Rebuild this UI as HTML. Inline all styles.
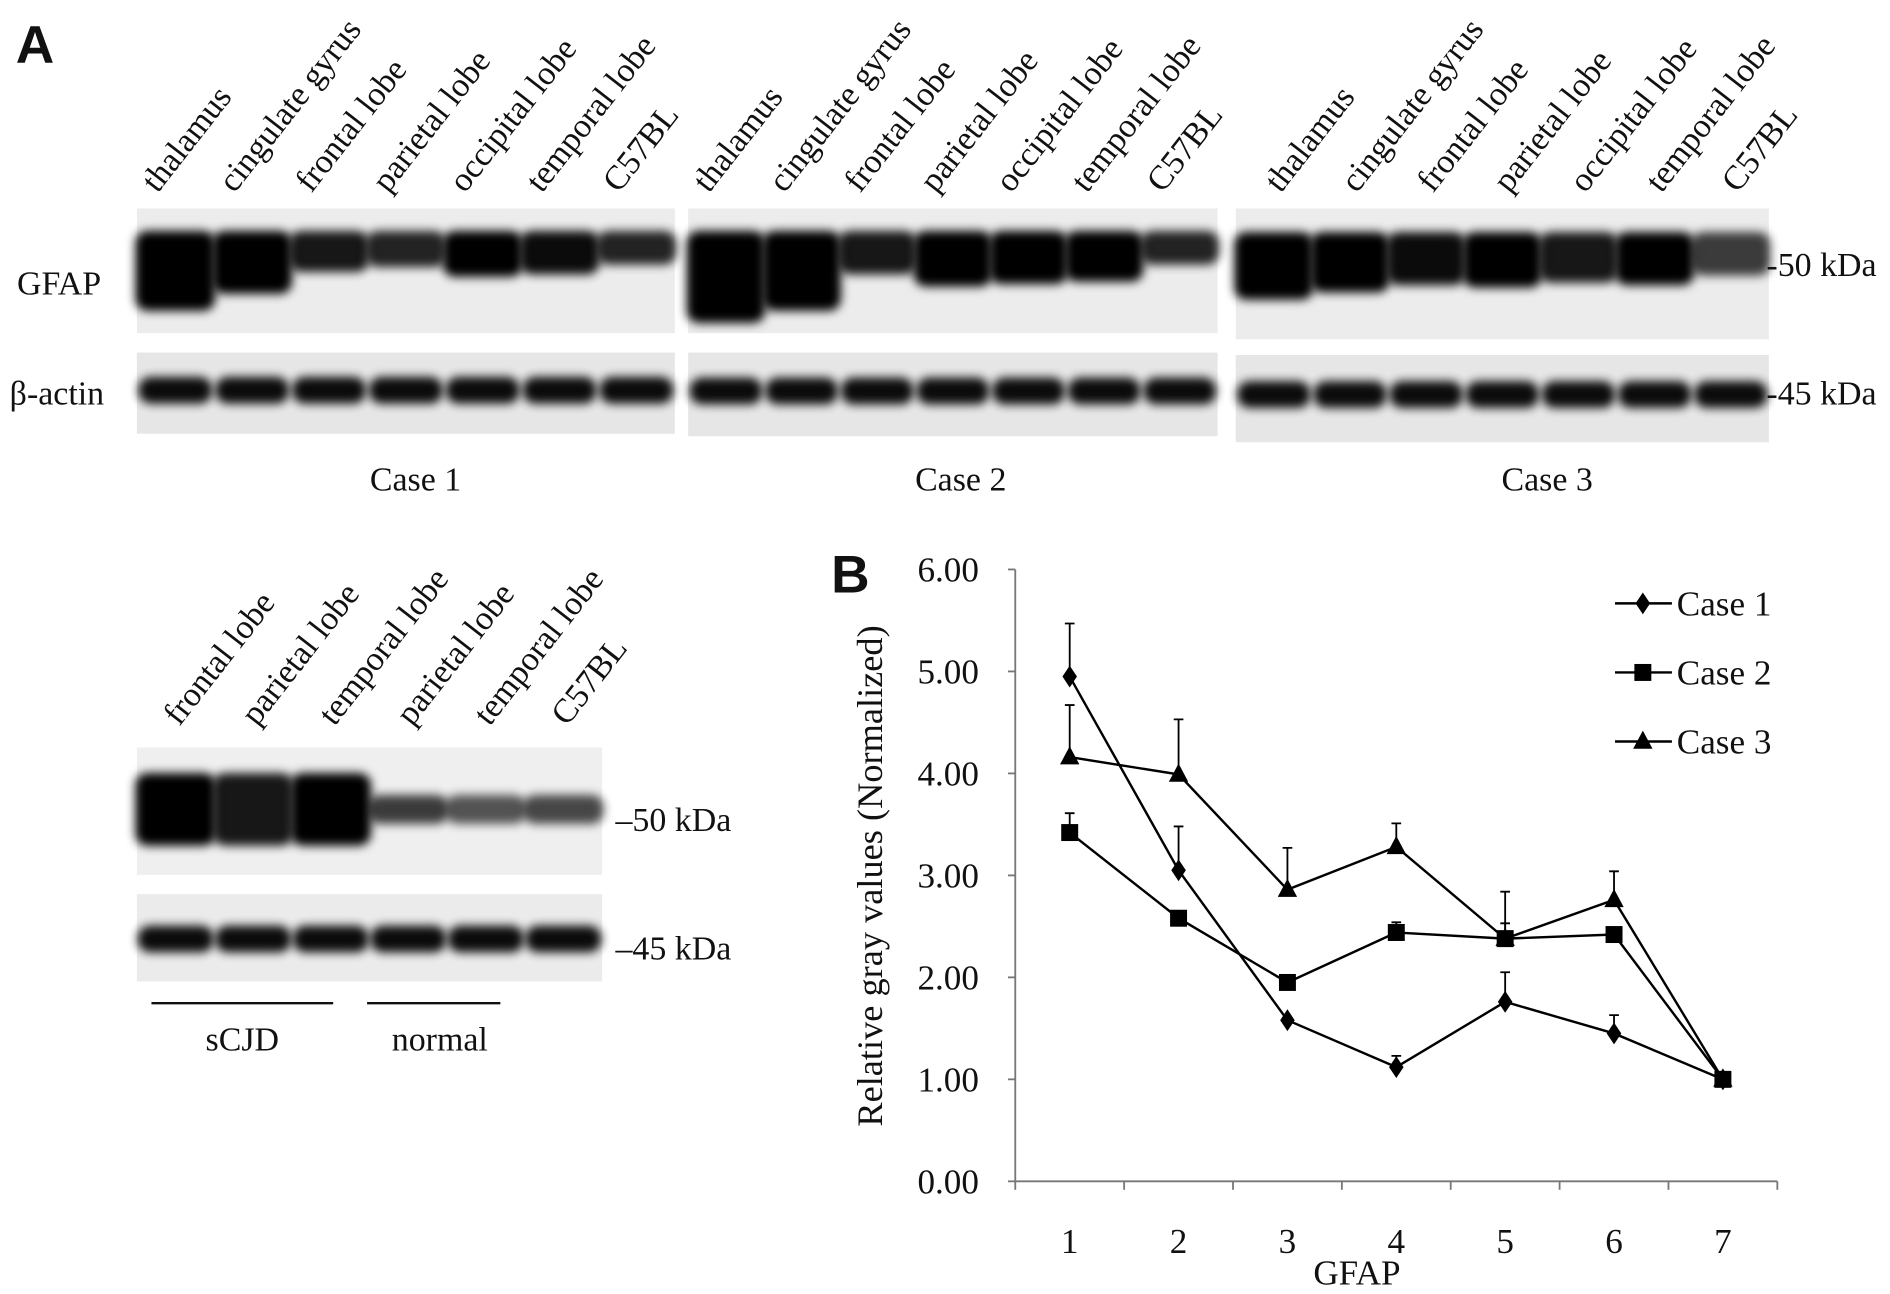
<!DOCTYPE html>
<html><head><meta charset="utf-8"><style>
html,body{margin:0;padding:0;background:#fff;width:1890px;height:1294px;overflow:hidden}
svg{display:block}
text{font-family:"Liberation Serif",serif;fill:#111}
</style></head><body>
<svg id="fig" width="1890" height="1294" viewBox="0 0 1560 1068" preserveAspectRatio="none" xmlns="http://www.w3.org/2000/svg">
<defs>
<filter id="blur" x="-20%" y="-50%" width="140%" height="200%"><feGaussianBlur stdDeviation="4"/></filter>
</defs>
<text x="13" y="52" style="font-family:'Liberation Sans',sans-serif;font-weight:bold;font-size:44px">A</text>
<text x="686" y="489" style="font-family:'Liberation Sans',sans-serif;font-weight:bold;font-size:44px">B</text>
<g id="blots"></g>
<g id="chart"></g>
</svg>
<script>
const NS='http://www.w3.org/2000/svg';
const svg=document.getElementById('fig');
const blots=document.getElementById('blots');
function mk(tag,attrs,parent){const e=document.createElementNS(NS,tag);for(const k in attrs)e.setAttribute(k,attrs[k]);(parent||svg).appendChild(e);return e;}
function txt(s,attrs,parent){const e=mk('text',attrs,parent);e.textContent=s;return e;}

const laneNames=['thalamus','cingulate gyrus','frontal lobe','parietal lobe','occipital lobe','temporal lobe','C57BL'];
const panels=[
 {x:113,w:444,gy:172,gh:103,ay:291,ah:67,lx:130,cap:'Case 1',cx:343,gi:[1,1,.9,.85,1,.95,.85],gt:[50,36,18,14,22,20,12]},
 {x:568,w:437,gy:172,gh:103,ay:291,ah:69,lx:585,cap:'Case 2',cx:793,gi:[1,1,.9,1,1,1,.85],gt:[60,50,20,30,28,26,12]},
 {x:1020,w:440,gy:172,gh:108,ay:293,ah:72,lx:1057,cap:'Case 3',cx:1277,gi:[1,1,.95,1,.9,1,.75],gt:[40,34,28,30,26,28,20]}
];
panels.forEach((p,pi)=>{
  const g=mk('g',{},blots);
  
  
  mk('rect',{x:p.x,y:p.gy,width:p.w,height:p.gh,fill:'#ececec'},g);
  mk('rect',{x:p.x,y:p.ay,width:p.w,height:p.ah,fill:'#e6e6e6'},g);
  const lw=p.w/7;
  for(let i=0;i<7;i++){
    const cx=p.x+lw*(i+.5);
    mk('rect',{x:cx-lw*0.52,y:p.gy+p.gh*0.18,width:lw*1.04,height:p.gt[i]+16,rx:10,fill:'#000',opacity:p.gi[i],filter:'url(#blur)'},g);
    mk('rect',{x:cx-lw*0.48,y:p.ay+p.ah*0.3,width:lw*0.96,height:22,rx:10,fill:'#000',opacity:.95,filter:'url(#blur)'},g);
    const t=txt(laneNames[i],{x:0,y:0,'font-size':'28',transform:`translate(${p.lx+i*(p.w/7)},${160}) rotate(-52)`},g);
    
    
  }
  const c=txt(p.cap,{x:p.cx,y:405,'font-size':'28','text-anchor':'middle'},g);
  
  
});
txt('GFAP',{x:14,y:243,'font-size':'28'},blots);
txt('β-actin',{x:8,y:334,'font-size':'28'},blots);
txt('-50 kDa',{x:1458,y:228,'font-size':'28'},blots);
txt('-45 kDa',{x:1458,y:334,'font-size':'28'},blots);

const lowNames=['frontal lobe','parietal lobe','temporal lobe','parietal lobe','temporal lobe','C57BL'];
const lowInt=[1,.9,1,.75,.65,.7];
const lg=mk('g',{},blots);


mk('rect',{x:113,y:617,width:384,height:105,fill:'#efefef'},lg);
mk('rect',{x:113,y:738,width:384,height:72,fill:'#ebebeb'},lg);
for(let i=0;i<6;i++){
  const lw=384/6,cx=113+lw*(i+.5);
  const big=lowInt[i]>.8;
  mk('rect',{x:cx-lw*.52,y:big?638:656,width:lw*1.04,height:big?60:24,rx:10,fill:'#000',opacity:lowInt[i],filter:'url(#blur)'},lg);
  mk('rect',{x:cx-lw*.49,y:764,width:lw*.98,height:22,rx:10,fill:'#000',opacity:.95,filter:'url(#blur)'},lg);
  const t=txt(lowNames[i],{x:0,y:0,'font-size':'28',transform:`translate(${148+i*64},600) rotate(-52)`},lg);
  
  
}
txt('–50 kDa',{x:508,y:686,'font-size':'28'},lg);
txt('–45 kDa',{x:508,y:792,'font-size':'28'},lg);
mk('line',{x1:125,y1:828,x2:275,y2:828,stroke:'#111','stroke-width':2},lg);
mk('line',{x1:303,y1:828,x2:413,y2:828,stroke:'#111','stroke-width':2},lg);
txt('sCJD',{x:200,y:867,'font-size':'28','text-anchor':'middle'},lg);
txt('normal',{x:363,y:867,'font-size':'28','text-anchor':'middle'},lg);
</script>
<script>
const categories=['1','2','3','4','5','6','7'];
const yTicks=['0.00','1.00','2.00','3.00','4.00','5.00','6.00'];
const case1=[4.95,3.05,1.58,1.12,1.76,1.45,1.00];
const case1Err=[0.52,0.43,0,0.11,0.29,0.18,0];
const case2=[3.42,2.58,1.95,2.44,2.38,2.42,1.00];
const case2Err=[0.19,0,0,0.10,0.15,0,0];
const case3=[4.16,3.99,2.86,3.28,2.38,2.76,1.00];
const case3Err=[0.51,0.54,0.41,0.23,0.46,0.28,0];
const seriesNames=['Case 1','Case 2','Case 3'];

(function(){
const NS='http://www.w3.org/2000/svg';
const chart=document.getElementById('chart');
function mk(tag,attrs,parent){const e=document.createElementNS(NS,tag);for(const k in attrs)e.setAttribute(k,attrs[k]);(parent||chart).appendChild(e);return e;}
const X0=838,X1=1467,Y0=975,Y6=470,yMax=6;
const bw=(X1-X0)/categories.length;
const xs=i=>X0+bw*(i+.5);
const ys=v=>Y0-(v/yMax)*(Y0-Y6);
const ax=mk('g',{});


mk('line',{x1:X0,y1:Y6,x2:X0,y2:Y0,stroke:'#777','stroke-width':1.5},ax);
mk('line',{x1:X0,y1:Y0,x2:X1,y2:Y0,stroke:'#777','stroke-width':1.5},ax);
yTicks.forEach((t)=>{
  const v=parseFloat(t);
  mk('line',{x1:X0-6,y1:ys(v),x2:X0,y2:ys(v),stroke:'#777','stroke-width':1.5},ax);
  const e=mk('text',{x:X0-30,y:ys(v)+10,'font-size':'29','text-anchor':'end'},ax);e.textContent=t;
  
  
});
for(let i=0;i<=categories.length;i++){
  mk('line',{x1:X0+bw*i,y1:Y0,x2:X0+bw*i,y2:Y0+7,stroke:'#777','stroke-width':1.5},ax);
}
categories.forEach((c,i)=>{
  const e=mk('text',{x:xs(i),y:1034,'font-size':'29','text-anchor':'middle'},ax);e.textContent=c;
  
  
});
let e=mk('text',{x:1120,y:1060,'font-size':'29','text-anchor':'middle'},ax);e.textContent='GFAP';


e=mk('text',{x:0,y:0,'font-size':'30','text-anchor':'middle',transform:'translate(728,723) rotate(-90)'},ax);e.textContent='Relative gray values (Normalized)';



function marker(kind,x,y,g){
  if(kind===0) return mk('polygon',{points:`${x},${y-9} ${x+6},${y} ${x},${y+9} ${x-6},${y}`,fill:'#000'},g);
  if(kind===1) return mk('rect',{x:x-7,y:y-7,width:14,height:14,fill:'#000'},g);
  return mk('polygon',{points:`${x},${y-9} ${x+8},${y+6} ${x-8},${y+6}`,fill:'#000'},g);
}
const all=[[case1,case1Err],[case2,case2Err],[case3,case3Err]];
all.forEach(([vals,errs],si)=>{
  const g=mk('g',{});
  
  
  mk('polyline',{points:vals.map((v,i)=>xs(i)+','+ys(v)).join(' '),fill:'none',stroke:'#000','stroke-width':2},g);
  vals.forEach((v,i)=>{
    if(errs[i]>0){
      const eb=mk('path',{d:`M${xs(i)},${ys(v)}V${ys(v+errs[i])}M${xs(i)-4},${ys(v+errs[i])}H${xs(i)+4}`,stroke:'#000','stroke-width':1.5,fill:'none'},g);
      
      
    }
    const m=marker(si,xs(i),ys(v),g);
    
    
  });
  const lgd=mk('g',{},g);
  
  
  const ly=498+si*57;
  mk('line',{x1:1333,y1:ly,x2:1380,y2:ly,stroke:'#000','stroke-width':2},lgd);
  marker(si,1356,ly,lgd);
  const t=mk('text',{x:1384,y:ly+10,'font-size':'29'},lgd);t.textContent=seriesNames[si];
});
})();
</script>
</body></html>
